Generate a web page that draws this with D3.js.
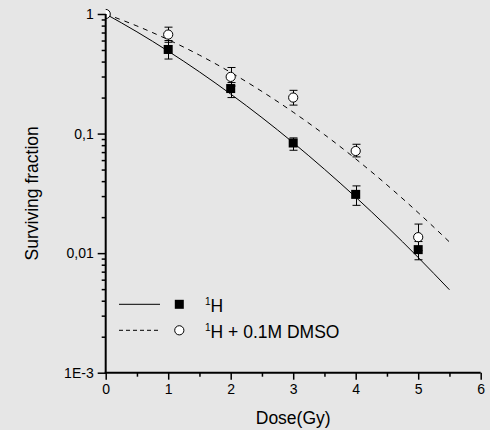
<!DOCTYPE html>
<html><head><meta charset="utf-8">
<script src="https://cdn.jsdelivr.net/npm/d3@7"></script>
<style>
html,body{margin:0;padding:0;background:#e6e6e6;}
svg{display:block;font-family:"Liberation Sans",Arial,sans-serif;}
</style></head>
<body>
<svg id="c" width="490" height="430"></svg>
<script>
// ---- data ----
const doses = [1, 2, 3, 4, 5];
const hVals = [0.505, 0.238, 0.0834, 0.031, 0.0107];
const hErrHi = [0.60, 0.267, 0.092, 0.0365, 0.0125];
const hErrLo = [0.42, 0.200, 0.0725, 0.0251, 0.0088];

const dmsoDoses = [0, 1, 2, 3, 4, 5];
const dmsoVals = [1, 0.673, 0.298, 0.20, 0.0715, 0.0136];
const dmsoErrHi = [null, 0.776, 0.357, 0.23, 0.0814, 0.0175];
const dmsoErrLo = [null, 0.58, 0.25, 0.173, 0.0638, 0.0105];

const fitDoses = [0, 0.5, 1, 1.5, 2, 2.5, 3, 3.5, 4, 4.5, 5, 5.5];
const hFit = [1, 0.709, 0.489, 0.328, 0.214, 0.136, 0.0839, 0.0503, 0.0294, 0.0167, 0.0092, 0.00494];
const dmsoFit = [1, 0.794, 0.61, 0.453, 0.325, 0.225, 0.151, 0.098, 0.0614, 0.0372, 0.0218, 0.0124];

const xTicks = [0, 1, 2, 3, 4, 5, 6];
const yTicks = [1, 0.1, 0.01, 0.001];
const yTickLabels = ["1", "0,1", "0,01", "1E-3"];

// ---- layout ----
const svg = d3.select("#c");
const X0 = 105.7, X1 = 480.7, Y0 = 372.7, Y1 = 14;
const x = d3.scaleLinear().domain([0, 6]).range([X0, X1]);
const y = d3.scaleLog().domain([0.001, 1]).range([Y0, Y1]);

svg.append("defs").append("clipPath").attr("id", "clip")
  .append("rect").attr("x", X0).attr("y", 0).attr("width", X1 - X0 + 10).attr("height", Y0);

const plot = svg.append("g").attr("clip-path", "url(#clip)");

// fit curves
const line = (vals) => d3.line().x((d, i) => x(fitDoses[i])).y((d) => y(d)).curve(d3.curveMonotoneX)(vals);
plot.append("path").attr("d", line(hFit)).attr("fill", "none").attr("stroke", "#000").attr("stroke-width", 1);
plot.append("path").attr("d", line(dmsoFit)).attr("fill", "none").attr("stroke", "#000").attr("stroke-width", 1)
  .attr("stroke-dasharray", "5,5");

// error bars
function errBars(xs, hi, lo) {
  xs.forEach((d, i) => {
    if (hi[i] == null) return;
    const g = plot.append("g").attr("stroke", "#000").attr("stroke-width", 1);
    const cx = Math.round(x(d)) + 0.5;
    g.append("line").attr("x1", cx).attr("x2", cx).attr("y1", y(hi[i])).attr("y2", y(lo[i]));
    g.append("line").attr("x1", cx - 4).attr("x2", cx + 4).attr("y1", y(hi[i])).attr("y2", y(hi[i]));
    g.append("line").attr("x1", cx - 4).attr("x2", cx + 4).attr("y1", y(lo[i])).attr("y2", y(lo[i]));
  });
}
errBars(dmsoDoses, dmsoErrHi, dmsoErrLo);
errBars(doses, hErrHi, hErrLo);

// squares
plot.selectAll("rect.sq").data(doses).enter().append("rect").attr("class", "sq")
  .attr("x", (d) => x(d) - 4.5).attr("y", (d, i) => y(hVals[i]) - 4.5)
  .attr("width", 9).attr("height", 9).attr("fill", "#000");

// circles
plot.selectAll("circle.ci").data(dmsoDoses).enter().append("circle").attr("class", "ci")
  .attr("cx", (d) => x(d)).attr("cy", (d, i) => y(dmsoVals[i])).attr("r", 4.6)
  .attr("fill", "#fff").attr("stroke", "#000").attr("stroke-width", 1);

// axes
const minorY = [];
[0.001, 0.01, 0.1].forEach((dec) => { for (let k = 2; k <= 9; k++) minorY.push(dec * k); });
const minorX = [0.5, 1.5, 2.5, 3.5, 4.5, 5.5];

const ax = svg.append("g").attr("stroke", "#000");
ax.append("line").attr("x1", X0).attr("x2", X0).attr("y1", Y1).attr("y2", Y0 + 1).attr("stroke-width", 2);
ax.append("line").attr("x1", X0 - 1).attr("x2", X1).attr("y1", Y0).attr("y2", Y0).attr("stroke-width", 2);

const yAxis = d3.axisLeft(y).tickValues(yTicks).tickFormat((d, i) => yTickLabels[i]).tickSize(8).tickPadding(4);
const yMinor = d3.axisLeft(y).tickValues(minorY).tickFormat("").tickSize(4);
const xAxis = d3.axisBottom(x).tickValues(xTicks).tickFormat(d3.format("d")).tickSize(7).tickPadding(4);
const xMinor = d3.axisBottom(x).tickValues(minorX).tickFormat("").tickSize(4);

function styleAxis(g) {
  g.select(".domain").remove();
  g.selectAll(".tick line").attr("stroke", "#000").attr("stroke-width", 1.5);
  g.selectAll(".tick text").attr("fill", "#000").attr("font-size", 14).attr("font-family", '"Liberation Sans",Arial,sans-serif');
}
svg.append("g").attr("transform", `translate(${X0},0)`).call(yMinor).call(styleAxis);
svg.append("g").attr("transform", `translate(${X0},0)`).call(yAxis).call(styleAxis);
svg.append("g").attr("transform", `translate(0,${Y0})`).call(xMinor).call(styleAxis);
svg.append("g").attr("transform", `translate(0,${Y0})`).call(xAxis).call(styleAxis);

// titles
svg.append("text").attr("x", x(3)).attr("y", 424).attr("text-anchor", "middle")
  .attr("font-size", 17.5).attr("fill", "#000").text("Dose(Gy)");
svg.append("text").attr("transform", `translate(38,${(Y0 + Y1) / 2}) rotate(-90)`).attr("text-anchor", "middle")
  .attr("font-size", 17.5).attr("fill", "#000").text("Surviving fraction");

// legend
const legendLabels = ["H", "H + 0.1M DMSO"];
const rows = [304.3, 330.3];
const lg = svg.append("g");
lg.append("line").attr("x1", 119).attr("x2", 160).attr("y1", rows[0]).attr("y2", rows[0]).attr("stroke", "#000");
lg.append("line").attr("x1", 119).attr("x2", 160).attr("y1", rows[1]).attr("y2", rows[1]).attr("stroke", "#000")
  .attr("stroke-dasharray", "4,3");
lg.append("rect").attr("x", 179.3 - 4.5).attr("y", rows[0] - 4.5).attr("width", 9).attr("height", 9).attr("fill", "#000");
lg.append("circle").attr("cx", 179.3).attr("cy", rows[1]).attr("r", 4.6).attr("fill", "#fff").attr("stroke", "#000");
legendLabels.forEach((lab, i) => {
  const t = lg.append("text").attr("x", 205).attr("y", rows[i] + 7.5).attr("font-size", 17.5).attr("fill", "#000");
  t.append("tspan").attr("font-size", 10).attr("dy", -7).text("1");
  t.append("tspan").attr("dy", 7).text(lab);
});
</script>
</body></html>
